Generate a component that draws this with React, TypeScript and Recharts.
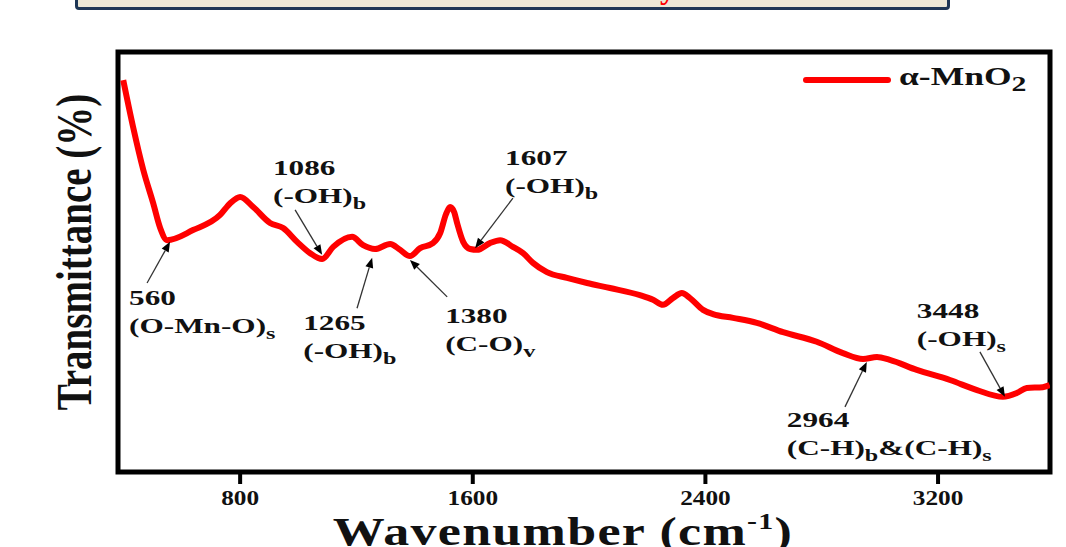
import React from 'react';
import { LineChart, Line, XAxis, YAxis, ReferenceLine, ReferenceDot, ReferenceArea, Legend } from 'recharts';

// FTIR spectrum of α-MnO2
const wavenumber = [
  398, 432, 467, 501, 525, 549, 638, 731, 766, 800, 845, 903, 948, 996, 1041, 1082,
  1120, 1185, 1223, 1264, 1316, 1350, 1384, 1419, 1463, 1488, 1508, 1522, 1536, 1546,
  1567, 1591, 1615, 1659, 1694, 1738, 1773, 1807, 1855, 1924, 1993, 2072, 2175, 2220,
  2254, 2288, 2319, 2347, 2392, 2426, 2495, 2577, 2667, 2783, 2873, 2942, 2990, 3034,
  3127, 3241, 3334, 3423, 3471, 3505, 3560, 3584,
];
const transmittance = [
  93.3, 82.1, 71.9, 64.0, 58.1, 55.2, 57.6, 61.2, 64.0, 65.5, 63.1, 59.3, 58.1, 54.8, 52.1, 50.7,
  53.6, 56.0, 54.0, 53.1, 54.3, 52.9, 51.4, 53.3, 54.5, 56.9, 61.4, 63.1, 61.9, 59.3,
  54.8, 53.1, 52.9, 54.5, 55.2, 53.6, 52.1, 49.8, 47.6, 46.2, 45.0, 43.8, 42.1, 41.0,
  39.8, 41.4, 42.6, 41.4, 38.6, 37.6, 36.7, 35.5, 33.3, 31.0, 28.3, 26.9, 27.4, 26.7,
  24.3, 21.9, 19.5, 17.9, 18.8, 20.0, 20.2, 20.7,
];
const xTicks = [800, 1600, 2400, 3200];
const xDomain = [380, 3585];

// peak annotations
const peakNames = ['560', '1086', '1265', '1380', '1607', '2964', '3448'];
const bondNames = ['(O-Mn-O)', '(-OH)', '(-OH)', '(C-O)', '(-OH)', '(C-H)', '(-OH)'];
const bondSubs = ['s', 'b', 'b', 'v', 'b', 'b', 's'];
const bondTails = ['', '', '', '', '', '&(C-H)', ''];
const bondTailSubs = ['', '', '', '', '', 's', ''];
const headX = [559, 1082, 1254, 1384, 1608, 2955, 3430];
const headY = [54.8, 51.7, 51.0, 50.5, 53.3, 26.2, 17.9];
const tailX = [480, 989, 1202, 1512, 1738, 2880, 3344];
const tailY = [45.0, 62.4, 39.0, 41.7, 65.2, 15.5, 28.6];
const textX = [418, 913, 1017, 1505, 1711, 2680, 3127];
const textY = [39.8, 70.7, 33.8, 35.5, 73.1, 10.7, 36.7];

const data = wavenumber.map((w, i) => ({ w, t: transmittance[i] }));

const FONT = '"Liberation Serif", "DejaVu Serif", serif';

const Arrow = (props: any) => {
  const { x1, y1, x2, y2 } = props;
  const a = Math.atan2(y2 - y1, x2 - x1);
  const len = 10;
  const w = 4;
  const bx = x2 - len * Math.cos(a);
  const by = y2 - len * Math.sin(a);
  const p1 = `${bx + w * Math.sin(a)},${by - w * Math.cos(a)}`;
  const p2 = `${bx - w * Math.sin(a)},${by + w * Math.cos(a)}`;
  return (
    <g>
      <line x1={x1} y1={y1} x2={bx} y2={by} stroke="#333" strokeWidth={1.3} />
      <polygon points={`${x2},${y2} ${p1} ${p2}`} fill="#000" />
    </g>
  );
};

const makeNote = (i: number) => (props: any) => {
  const { cx, cy } = props;
  return (
    <g transform={`translate(${cx},${cy}) scale(1.42,1)`} fontFamily={FONT} fontWeight="bold" fill="#111">
      <text x={0} y={0} fontSize={22}>{peakNames[i]}</text>
      <text x={0} y={28} fontSize={22}>
        {bondNames[i]}
        <tspan dy={6} fontSize={17}>{bondSubs[i]}</tspan>
        {bondTails[i] ? <tspan dy={-6} fontSize={22}>{bondTails[i]}</tspan> : null}
        {bondTailSubs[i] ? <tspan dy={6} fontSize={17}>{bondTailSubs[i]}</tspan> : null}
      </text>
    </g>
  );
};

const XTick = (props: any) => {
  const { x, y, payload } = props;
  return (
    <g transform={`translate(${x},${y + 19}) scale(1.15,1)`}>
      <text x={0} y={0} textAnchor="middle" fontFamily={FONT} fontWeight="bold" fontSize={22} fill="#111">
        {payload.value}
      </text>
    </g>
  );
};

const XTitle = (props: any) => {
  const { viewBox } = props;
  const cx = viewBox.x + viewBox.width / 2 - 21;
  return (
    <g transform={`translate(${cx},${viewBox.y + 73}) scale(1.3,1)`}>
      <text x={0} y={0} textAnchor="middle" fontFamily={FONT} fontWeight="bold" fontSize={40} letterSpacing={1} fill="#111">
        Wavenumber (cm<tspan dy={-16} fontSize={23}>-1</tspan><tspan dy={16}>)</tspan>
      </text>
    </g>
  );
};

const LegendBox = () => (
  <div style={{ display: 'flex', alignItems: 'center', fontFamily: FONT, fontWeight: 'bold', color: '#111' }}>
    <div style={{ width: 88, height: 6, background: '#ff0000', borderRadius: 3, marginRight: 8 }} />
    <span style={{ fontSize: 25, transform: 'scale(1.42,1)', transformOrigin: 'left center', display: 'inline-block', whiteSpace: 'nowrap' }}>
      α-MnO<sub style={{ fontSize: 21, verticalAlign: -6 }}>2</sub>
    </span>
  </div>
);

export default function App() {
  return (
    <div style={{ position: 'absolute', left: 0, top: 0, width: 1066, height: 547, background: '#fff', overflow: 'hidden' }}>
      <div style={{ position: 'absolute', left: 75, top: -8, width: 869, height: 12, border: '3px solid #1e3655', background: '#ece7d6', borderRadius: 4, overflow: 'hidden' }}>
        <span style={{ position: 'absolute', left: 582, top: -26, color: '#ff0000', fontFamily: FONT, fontWeight: 'bold', fontSize: 32 }}>y</span>
      </div>
      <div
        style={{
          position: 'absolute',
          left: 73,
          top: 252,
          transform: 'translate(-50%, -50%) rotate(-90deg) scaleY(1.3)',
          whiteSpace: 'nowrap',
          fontFamily: FONT,
          fontWeight: 'bold',
          fontSize: 39,
          lineHeight: 1,
          color: '#111',
        }}
      >
        Transmittance (%)
      </div>
      <LineChart width={1066} height={547} data={data} margin={{ top: 52, right: 16, left: 118, bottom: 0 }}>
        <XAxis
          dataKey="w"
          type="number"
          domain={xDomain}
          allowDataOverflow
          ticks={xTicks}
          height={75}
          axisLine={false}
          tickLine={{ stroke: '#000', strokeWidth: 4 }}
          tickSize={12}
          tick={<XTick />}
          label={<XTitle />}
        />
        <YAxis type="number" domain={[0, 100]} width={0} tick={false} axisLine={false} tickLine={false} />
        <ReferenceArea x1={xDomain[0]} x2={xDomain[1]} y1={0} y2={100} fill="none" stroke="#000" strokeWidth={5} ifOverflow="visible" />
        <Legend
          layout="horizontal"
          verticalAlign="middle"
          align="center"
          content={<LegendBox />}
          wrapperStyle={{ position: 'absolute', left: 803, top: 63, width: 240 }}
        />
        <Line dataKey="t" type="monotone" stroke="#ff0000" strokeWidth={6} dot={false} activeDot={false} isAnimationActive={false} />
        {peakNames.map((p, i) => (
          <ReferenceLine
            key={'a' + p}
            segment={[{ x: tailX[i], y: tailY[i] }, { x: headX[i], y: headY[i] }]}
            shape={Arrow}
          />
        ))}
        {peakNames.map((p, i) => (
          <ReferenceDot key={'t' + p} x={textX[i]} y={textY[i]} r={0} shape={makeNote(i)} />
        ))}
      </LineChart>
    </div>
  );
}
